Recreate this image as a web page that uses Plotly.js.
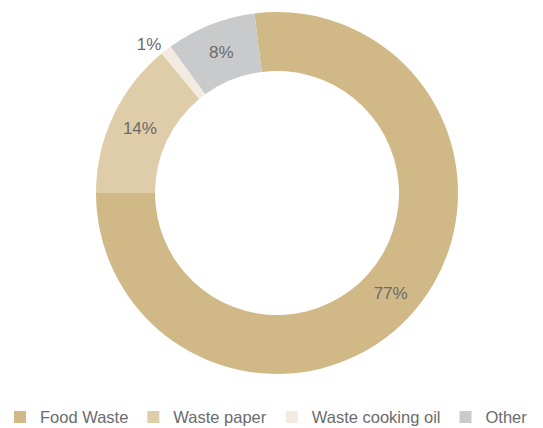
<!DOCTYPE html>
<html>
<head>
<meta charset="utf-8">
<script src="https://cdn.plot.ly/plotly-3.0.1.min.js"></script>
<style>html,body{margin:0;padding:0;background:#fff;}#chart{width:543px;height:428px;}</style>
</head>
<body>
<div id="chart"></div>
<script>
var categories = ["Food Waste", "Waste paper", "Waste cooking oil", "Other"];
var values = [77, 14, 1, 8];
var colors = ["#d1b887", "#dfcdaa", "#f3ebdf", "#c9cacc"];
var textPositions = ["inside", "inside", "outside", "inside"];

var trace = {
  type: "pie",
  labels: categories,
  values: values,
  sort: false,
  direction: "clockwise",
  rotation: -7.2,
  hole: 0.674,
  domain: {x: [0.1768, 0.8435], y: [0, 1]},
  marker: {colors: colors, line: {width: 0}},
  textinfo: "percent",
  texttemplate: "%{percent:.0%}",
  textposition: textPositions,
  insidetextorientation: "horizontal",
  textfont: {family: "Liberation Sans, Arial, sans-serif", size: 17, color: "#6b6b6b"},
  outsidetextfont: {family: "Liberation Sans, Arial, sans-serif", size: 17, color: "#6b6b6b"},
  hoverinfo: "label+percent"
};

var layout = {
  width: 543, height: 428,
  margin: {l: 0, r: 0, t: 12, b: 54},
  paper_bgcolor: "#ffffff",
  showlegend: true,
  legend: {
    orientation: "h",
    xref: "paper", yref: "container",
    x: 0, y: 0.066, xanchor: "left", yanchor: "top",
    font: {family: "Liberation Sans, Arial, sans-serif", size: 16.5, color: "#6b6b6b"},
    itemwidth: 30,
    traceorder: "normal"
  }
};

Plotly.newPlot("chart", [trace], layout, {displayModeBar: false, staticPlot: true});
</script>
</body>
</html>
